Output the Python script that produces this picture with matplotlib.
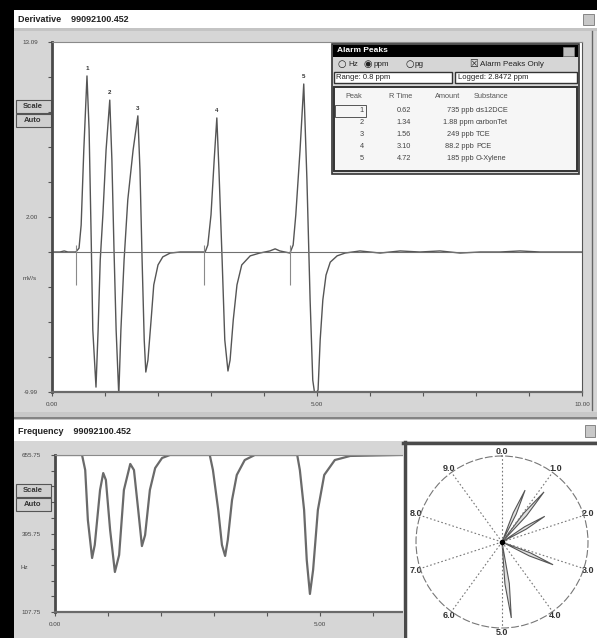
import numpy as np
import matplotlib
matplotlib.use("Agg")
import matplotlib.pyplot as plt
from matplotlib.patches import Rectangle

plt.rcParams['font.family'] = ['Liberation Sans', 'DejaVu Sans']

W, H = 597, 638

# derivative trace, time (min) vs signal (scaled mV/s)
deriv_t = [0.00, 0.15, 0.23, 0.30, 0.45, 0.51, 0.55, 0.60, 0.66, 0.70,
           0.74, 0.77, 0.83, 0.87, 0.91, 0.96, 1.02, 1.09, 1.13, 1.17,
           1.21, 1.26, 1.30, 1.36, 1.43, 1.53, 1.62, 1.66, 1.70, 1.74,
           1.77, 1.81, 1.87, 1.92, 2.00, 2.09, 2.23, 2.42, 2.60, 2.89,
           2.94, 3.00, 3.06, 3.11, 3.15, 3.21, 3.26, 3.32, 3.36, 3.42,
           3.49, 3.58, 3.74, 3.92, 4.11, 4.21, 4.30, 4.49, 4.55, 4.60,
           4.68, 4.75, 4.81, 4.87, 4.92, 4.96, 5.02, 5.06, 5.11, 5.17,
           5.25, 5.38, 5.53, 5.81, 6.19, 6.57, 6.94, 7.32, 7.70, 8.08,
           8.45, 8.83, 9.21, 9.58, 10.00]
deriv_v = [0.00, 0.00, 0.03, 0.00, 0.00, 0.11, 0.77, 2.91, 5.03, 3.49,
           0.34, -2.23, -3.86, -2.23, -0.23, 1.06, 2.91, 4.34, 2.63, 0.06,
           -2.23, -4.09, -2.23, -0.23, 1.49, 2.91, 3.89, 2.34, -0.23, -2.51,
           -3.43, -3.09, -1.94, -0.94, -0.37, -0.14, -0.03, 0.00, 0.00, 0.00,
           0.20, 1.06, 2.63, 3.83, 2.34, -0.23, -2.51, -3.40, -3.09, -1.94,
           -0.94, -0.37, -0.11, -0.03, 0.03, 0.09, 0.03, -0.03, 0.20, 1.06,
           2.91, 4.80, 2.06, -1.37, -3.66, -4.09, -3.94, -2.51, -1.37, -0.66,
           -0.29, -0.11, -0.03, 0.03, -0.03, 0.03, 0.00, 0.03, -0.03, 0.00,
           0.00, 0.03, 0.00, 0.00, 0.00]
peak_t = [0.66, 1.09, 1.62, 3.11, 4.75]
peak_v = [5.03, 4.34, 3.89, 3.83, 4.80]
marker_t = [0.45, 2.87, 4.49]

# frequency trace
freq_t = [0.00, 0.51, 0.57, 0.62, 0.70, 0.75, 0.85, 0.91, 0.96, 1.04,
          1.13, 1.21, 1.30, 1.42, 1.49, 1.57, 1.64, 1.70, 1.79, 1.89,
          2.02, 2.17, 2.92, 2.98, 3.08, 3.15, 3.21, 3.26, 3.34, 3.43,
          3.58, 3.77, 4.57, 4.62, 4.70, 4.75, 4.81, 4.87, 4.96, 5.08,
          5.28, 5.57, 6.51, 10.00]
freq_v = [10.00, 10.00, 9.04, 5.86, 3.44, 4.27, 7.77, 8.85, 8.41, 5.22,
          2.55, 3.63, 7.77, 9.43, 9.04, 6.50, 4.20, 4.90, 7.77, 9.17,
          9.81, 10.00, 10.00, 9.04, 6.50, 4.27, 3.57, 4.59, 7.13, 8.73,
          9.68, 10.00, 10.00, 9.04, 6.50, 3.31, 1.15, 2.68, 6.50, 8.73,
          9.68, 9.94, 10.00, 10.00]

# alarm peaks table
peak_ids = [1, 2, 3, 4, 5]
rt_times = ["0.62", "1.34", "1.56", "3.10", "4.72"]
amounts = ["735 ppb", "1.88 ppm", "249 ppb", "88.2 ppb", "185 ppb"]
substances = ["cis12DCE", "carbonTet", "TCE", "PCE", "O-Xylene"]

# phase plot
phase_labels = ["0.0", "1.0", "2.0", "3.0", "4.0", "5.0", "6.0", "7.0", "8.0", "9.0"]
lobe_angle = [24, 40, 59, 114, 173]
lobe_len = [0.66, 0.76, 0.58, 0.65, 0.89]

top_xlabels = ["0.00", "", "", "", "", "5.00", "", "", "", "", "10.00"]
top_ylabels = ["-9.99", "", "", "", "", "2.00", "", "", "", "", "13.09"]
bot_ylabels = ["107.75", "", "", "", "", "395.75", "", "", "", "", "655.75"]

fig = plt.figure(figsize=(W / 100, H / 100), dpi=100)


def place(x0, y0, x1, y1, **kw):
    return fig.add_axes([x0 / W, 1 - y1 / H, (x1 - x0) / W, (y1 - y0) / H], **kw)


def box(ax, x0, y0, x1, y1, fc, ec='none', lw=0.0, z=1):
    ax.add_patch(Rectangle((x0, y0), x1 - x0, y1 - y0, fc=fc, ec=ec, lw=lw, zorder=z))


def txt(ax, x, y, s, size=5, ha='left', **kw):
    ax.text(x, y, s, fontsize=size, ha=ha, va='center', **kw)


# window chrome
bg = fig.add_axes([0, 0, 1, 1])
bg.set_xlim(0, W)
bg.set_ylim(H, 0)
bg.axis('off')
box(bg, 0, 0, W, H, '#d6d6d6')
box(bg, 14, 10, W, 28, 'white')
box(bg, 14, 28, W, 31, '#c4c4c4')
txt(bg, 18, 19, "Derivative    99092100.452", size=6.5, weight='bold', color='#222')
box(bg, 583, 14, 594, 25, '#c8c8c8', '#777', 0.6)
bg.plot([592, 592], [31, 410], color='#666', lw=1)
box(bg, 14, 412, W, 420, '#c8c8c8')
bg.plot([14, W], [418, 418], color='#777', lw=1.2)
box(bg, 14, 420, W, 441, 'white')
txt(bg, 18, 432, "Frequency    99092100.452", size=6.5, weight='bold', color='#222')
box(bg, 585, 425, 595, 437, '#c8c8c8', '#777', 0.6)
for yb in (100, 484):
    box(bg, 16, yb, 51, yb + 13, '#cfcfcf', '#555', 0.8)
    box(bg, 16, yb + 14, 51, yb + 27, '#cfcfcf', '#555', 0.8)
    txt(bg, 33, yb + 6.5, "Scale", size=5.5, ha='center', weight='bold', color='#333')
    txt(bg, 33, yb + 20.5, "Auto", size=5.5, ha='center', weight='bold', color='#333')
box(bg, 0, 0, W, 10, 'black', z=5)
box(bg, 0, 0, 14, H, 'black', z=5)

# derivative plot
ax1 = place(52, 42, 582, 392)
ax1.plot(deriv_t, deriv_v, color='#555555', lw=1.0)
ax1.axhline(0, color='#707070', lw=0.8)
ax1.vlines(marker_t, -0.94, 0.2, color='#8a8a8a', lw=0.8)
for pid, t, v in zip(peak_ids, peak_t, peak_v):
    ax1.text(t, v + 0.15, str(pid), ha='center', va='bottom', fontsize=4.5,
             weight='bold', color='#333')
ax1.set_xlim(0, 10)
ax1.set_ylim(-4, 6)
ax1.set_xticks(range(11))
ax1.set_xticklabels(top_xlabels)
ax1.set_yticks(range(-4, 7))
ax1.set_yticklabels(top_ylabels)
ax1.annotate("mV/s", xy=(-0.028, -0.77), xycoords=('axes fraction', 'data'),
             fontsize=4.5, ha='right', va='center', color='#444')

# frequency plot
ax2 = place(55, 455, 585, 612)
ax2.plot(freq_t, freq_v, color='#6a6a6a', lw=1.6)
ax2.set_xlim(0, 10)
ax2.set_ylim(0, 10)
ax2.set_xticks(range(11))
ax2.set_xticklabels(top_xlabels)
ax2.set_yticks(range(11))
ax2.set_yticklabels(bot_ylabels)
ax2.annotate("Hz", xy=(-0.05, 2.86), xycoords=('axes fraction', 'data'),
             fontsize=4.5, ha='right', va='center', color='#444')

for ax in (ax1, ax2):
    ax.set_facecolor('white')
    ax.spines['left'].set_color('#4a4a4a')
    ax.spines['left'].set_linewidth(2.0)
    ax.spines['bottom'].set_color('#6a6a6a')
    ax.spines['bottom'].set_linewidth(1.6)
    ax.spines['top'].set_color('#8a8a8a')
    ax.spines['right'].set_color('#555')
    ax.tick_params(direction='out', length=3, width=0.8, color='#555',
                   labelsize=4.5, labelcolor='#444')
    ax.tick_params(axis='y', pad=7)
    ax.tick_params(axis='x', pad=4)

# overlay: alarm dialog and phase panel background
ov = fig.add_axes([0, 0, 1, 1])
ov.set_xlim(0, W)
ov.set_ylim(H, 0)
ov.axis('off')
box(ov, 332, 44, 579, 174, '#d6d6d6', '#333', 1.2)
box(ov, 333, 45, 578, 57, 'black')
txt(ov, 337, 51, "Alarm Peaks", size=6, weight='bold', color='white')
box(ov, 563, 47, 574, 55.5, '#bdbdbd', '#888', 0.5)
for xs, sym, lab in ((338, "○", "Hz"), (364, "◉", "ppm"), (405, "○", "pg")):
    txt(ov, xs, 64, sym, size=7, color='#222', family='DejaVu Sans')
    txt(ov, xs + 10, 64.5, lab, size=5.8, color='#222')
txt(ov, 469, 64, "☒", size=7, color='#222', family='DejaVu Sans')
txt(ov, 480, 64.5, "Alarm Peaks Only", size=5.8, color='#222')
box(ov, 334, 72, 452, 83, 'white', '#333', 1.0)
box(ov, 455, 72, 577, 83, 'white', '#333', 1.0)
txt(ov, 336, 77.5, "Range: 0.8 ppm", size=5.5, color='#222')
txt(ov, 458, 77.5, "Logged: 2.8472 ppm", size=5.5, color='#222')
box(ov, 334, 87, 577, 171, '#f6f6f6', '#333', 1.4)
txt(ov, 362, 97, "Peak", size=5.3, ha='right', color='#555')
txt(ov, 412, 97, "R Time", size=5.3, ha='right', color='#555')
txt(ov, 435, 97, "Amount", size=5.3, color='#555')
txt(ov, 474, 97, "Substance", size=5.3, color='#555')
box(ov, 335, 104.5, 366, 117, 'none', '#555', 0.7, z=3)
for i, pid in enumerate(peak_ids):
    yr = 110.5 + 12 * i
    txt(ov, 364, yr, str(pid), size=5.3, ha='right', color='#444')
    txt(ov, 411, yr, rt_times[i], size=5.3, ha='right', color='#444')
    txt(ov, 474, yr, amounts[i], size=5.3, ha='right', color='#444')
    txt(ov, 476, yr, substances[i], size=5.3, color='#444')

box(ov, 403, 442, W, H, 'white')
ov.plot([404.5, 404.5], [442, H], color='#4a4a4a', lw=2.5)
ov.plot([403, W], [443, 443], color='#4a4a4a', lw=2.5)

# phase plot
axp = place(416, 456, 588, 628, projection='polar')
axp.set_theta_zero_location('N')
axp.set_theta_direction(-1)
axp.set_ylim(0, 1)
axp.set_yticks([])
axp.set_thetagrids(np.arange(0, 360, 36), labels=phase_labels,
                   fontsize=6.5, weight='bold', color='#333')
axp.tick_params(axis='x', pad=-7)
axp.xaxis.grid(True, linestyle=(0, (1.5, 2)), color='#777', lw=0.8)
axp.spines['polar'].set_linestyle((0, (6, 3)))
axp.spines['polar'].set_color('#777')
axp.spines['polar'].set_linewidth(0.8)
for a, L in zip(lobe_angle, lobe_len):
    th = np.deg2rad([a, a - 3, a, a + 3, a])
    axp.fill(th, [0, 0.55 * L, L, 0.55 * L, 0], fc='#e0e0e0', ec='#555', lw=0.8)
axp.plot(0, 0, 'o', color='black', ms=3)
axp.set_facecolor('white')

fig.savefig("out.png", dpi=100)
